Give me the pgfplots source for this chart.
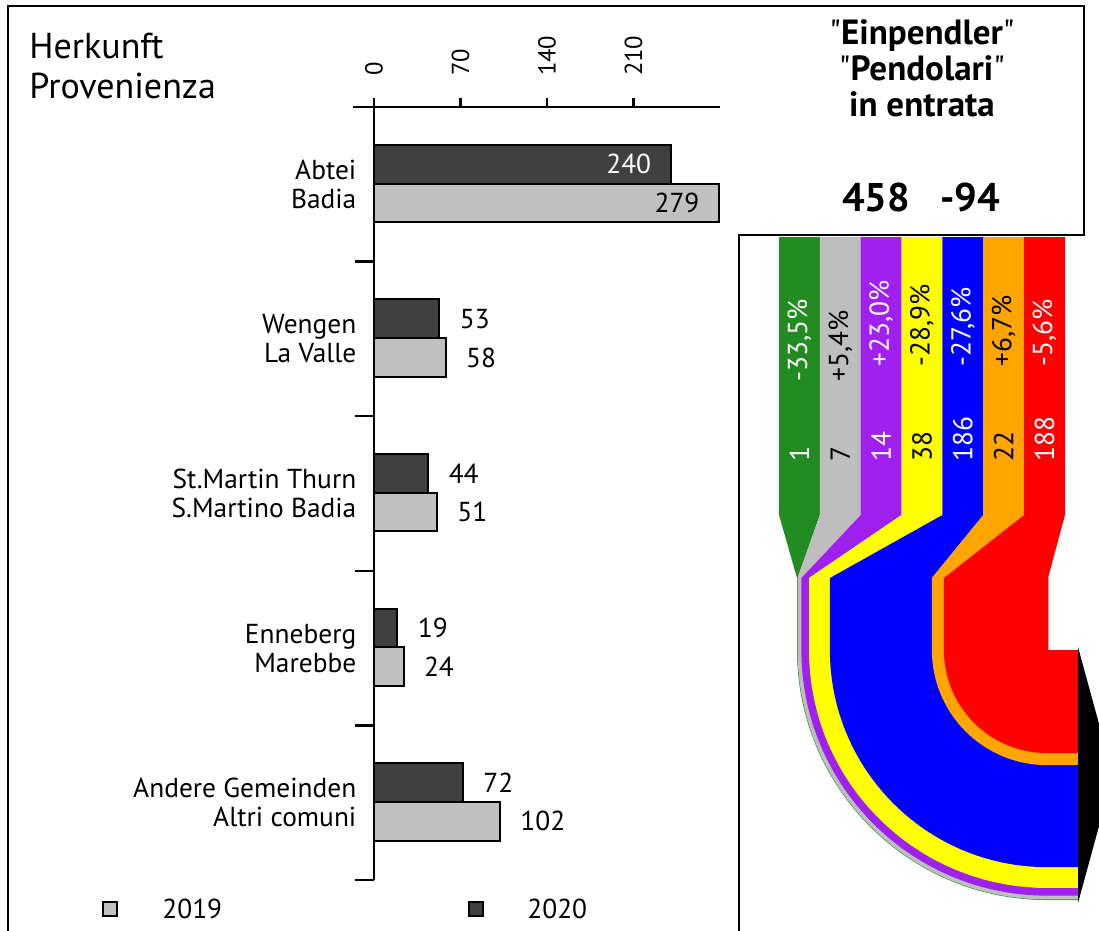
\documentclass[border=0pt]{standalone}
\usepackage{fontspec}
\setmainfont{PT Sans}[Ligatures=TeXOff]
\usepackage{pgfplots}
\pgfplotsset{compat=1.18}
\definecolor{bar19}{RGB}{192,192,192}
\definecolor{bar20}{RGB}{64,64,64}
\definecolor{sgreen}{RGB}{34,139,34}
\definecolor{sgray}{RGB}{190,190,190}
\definecolor{spurple}{RGB}{160,32,240}
\definecolor{syellow}{RGB}{255,255,0}
\definecolor{sblue}{RGB}{0,0,255}
\definecolor{sorange}{RGB}{255,165,0}
\definecolor{sred}{RGB}{255,0,0}

% band radii in the bend (px), widths follow the values 1,7,14,38,186,22,188
\pgfmathsetmacro\sc{250/(1+7+14+38+186+22+188)}
\pgfmathsetmacro\rA{250}
\pgfmathsetmacro\rB{\rA-1*\sc}
\pgfmathsetmacro\rC{\rB-7*\sc}
\pgfmathsetmacro\rD{\rC-14*\sc}
\pgfmathsetmacro\rE{\rD-38*\sc}
\pgfmathsetmacro\rF{\rE-186*\sc}
\pgfmathsetmacro\rG{\rF-22*\sc}

% colour, top left, top right, bottom left, bottom right
\newcommand\strip[5]{\fill[#1] (axis cs:#2,237) -- (axis cs:#3,237) -- (axis cs:#3,515)
  -- (axis cs:#5,578) -- (axis cs:#4,578) -- (axis cs:#2,515) -- cycle;}
% colour, outer radius
\newcommand\bend[2]{\fill[#1] (axis cs:{1047-#2},578) -- (axis cs:{1047-#2},650)
  arc[start angle=180,end angle=270,radius={#2*0.5pt}] -- (axis cs:1078,{650+#2})
  -- (axis cs:1078,650) -- (axis cs:1048,650) -- (axis cs:1048,578) -- cycle;}
% x, percent, value, text colour, y of percent
\newcommand\slab[5]{%
  \node[rotate=90, anchor=west, text=#4, font=\catfont, inner sep=0pt] at (axis cs:#1,#5) {#2};
  \node[rotate=90, anchor=west, text=#4, font=\catfont, inner sep=0pt] at (axis cs:#1,462) {#3};}
\newcommand\vlab[2]{\node[anchor=west, font=\catfont, inner sep=0pt, xshift=10pt] at (axis cs:#1,#2) {#1};}
\newcommand\clab[2]{\node[anchor=east, align=right, font=\catfont, inner sep=0pt] at (axis cs:-14,#1) {#2};}
\newcommand\ytk[1]{\draw[line width=1.2pt] (axis cs:-15.5,#1) -- (axis cs:0,#1);}
\newcommand\xtk[1]{\draw[line width=1.2pt] (axis cs:#1,0) -- (axis cs:#1,-0.058);}

\newcommand\catfont{\fontsize{13.7}{14.5}\selectfont}

\begin{document}
\begin{tikzpicture}
\path[use as bounding box] (0,0) rectangle (549.5pt,-465.5pt);
\clip (0,0) rectangle (549.5pt,-465.5pt);

% ---- bars
\begin{axis}[
  at={(176.5pt,-440pt)}, anchor=south west,
  scale only axis, width=183.5pt, height=386.5pt,
  xmin=-17, xmax=280, ymin=0, ymax=5, y dir=reverse,
  axis x line*=top, axis y line=none,
  axis line style={line width=1.2pt},
  xtick={0,70,140,210},
  tick style={draw=none},
  xtick align=outside, major tick length=4.5pt,
  x tick label style={rotate=90, anchor=west, font=\fontsize{12.3}{14}\selectfont, xshift=7.5pt},
  /pgf/number format/assume math mode=true,
  ytick=\empty,
  clip=false,
]
\addplot[xbar, bar width=0.25, bar shift=0pt, fill=bar20, draw=black, line width=1pt]
  coordinates {(240,0.37) (53,1.37) (44,2.37) (19,3.37) (72,4.37)};
\addplot[xbar, bar width=0.25, bar shift=0pt, fill=bar19, draw=black, line width=1pt]
  coordinates {(279,0.62) (58,1.62) (51,2.62) (24,3.62) (102,4.62)};

\draw[line width=1.2pt] (axis cs:0,-0.058) -- (axis cs:0,5);
\xtk{70}\xtk{140}\xtk{210}
\ytk{1}\ytk{2}\ytk{3}\ytk{4}\ytk{5}

\clab{0.5}{Abtei\\Badia}
\clab{1.5}{Wengen\\La Valle}
\clab{2.5}{St.Martin Thurn\\S.Martino Badia}
\clab{3.5}{Enneberg\\Marebbe}
\clab{4.5}{Andere Gemeinden\\Altri comuni}

\node[anchor=east, font=\catfont, text=white, inner sep=0pt, xshift=-9.5pt] at (axis cs:240,0.37) {240};
\node[anchor=east, font=\catfont, inner sep=0pt, xshift=-9.5pt] at (axis cs:279,0.62) {279};
\vlab{53}{1.37}\vlab{58}{1.62}
\vlab{44}{2.37}\vlab{51}{2.62}
\vlab{19}{3.37}\vlab{24}{3.62}
\vlab{72}{4.37}\vlab{102}{4.62}
\end{axis}

% ---- flows
\begin{axis}[
  at={(370pt,-465.5pt)}, anchor=south west,
  scale only axis, width=179.5pt, height=348pt,
  xmin=740, xmax=1099, ymin=235, ymax=931, y dir=reverse,
  hide axis, clip=false,
]
\strip{sgreen}{779}{819.86}{{1047-\rA}}{{1047-\rB}}
\strip{sgray}{819.86}{860.71}{{1047-\rB}}{{1047-\rC}}
\strip{spurple}{860.71}{901.57}{{1047-\rC}}{{1047-\rD}}
\strip{syellow}{901.57}{942.43}{{1047-\rD}}{{1047-\rE}}
\strip{sblue}{942.43}{983.29}{{1047-\rE}}{{1047-\rF}}
\strip{sorange}{983.29}{1024.14}{{1047-\rF}}{{1047-\rG}}
\strip{sred}{1024.14}{1065}{{1047-\rG}}{1048}
\bend{sgreen}{\rA}
\bend{sgray}{\rB}
\bend{spurple}{\rC}
\bend{syellow}{\rD}
\bend{sblue}{\rE}
\bend{sorange}{\rF}
\bend{sred}{\rG}
\fill[black] (axis cs:1078,647) -- (axis cs:1113,775) -- (axis cs:1078,903) -- cycle;

\slab{799.4}{-33,5\%}{1}{white}{382}
\slab{840.3}{+5,4\%}{7}{black}{382}
\slab{881.1}{+23,0\%}{14}{white}{367}
\slab{922.0}{-28,9\%}{38}{black}{367}
\slab{962.8}{-27,6\%}{186}{white}{367}
\slab{1003.7}{+6,7\%}{22}{black}{367}
\slab{1044.5}{-5,6\%}{188}{white}{367}
\end{axis}

% ---- frame, titles, legend
\begin{scope}[x=0.5pt, y=-0.5pt]
\draw[line width=1pt] (8,940) -- (8,6) -- (1084,6) -- (1084,235) -- (739,235) -- (739,940);
\node[anchor=north west, align=left, font=\fontsize{18}{20}\selectfont, inner sep=0pt] at (29,33) {Herkunft\\Provenienza};
\node[align=center, font=\fontsize{17.5}{18}\selectfont, inner sep=0pt] at (922,68)
  {"\textbf{Einpendler}"\\"\textbf{Pendolari}"\\\textbf{in entrata}};
\node[font=\bfseries\fontsize{20}{22}\selectfont, inner sep=0pt] at (921,198) {458\hspace{0.75em}-94};
\draw[fill=bar19, line width=0.8pt] (103,902) rectangle (117,916);
\node[anchor=west, font=\catfont, inner sep=0pt] at (162,909) {2019};
\draw[fill=bar20, line width=0.8pt] (469,902) rectangle (483,916);
\node[anchor=west, font=\catfont, inner sep=0pt] at (527,909) {2020};
\end{scope}
\end{tikzpicture}
\end{document}
